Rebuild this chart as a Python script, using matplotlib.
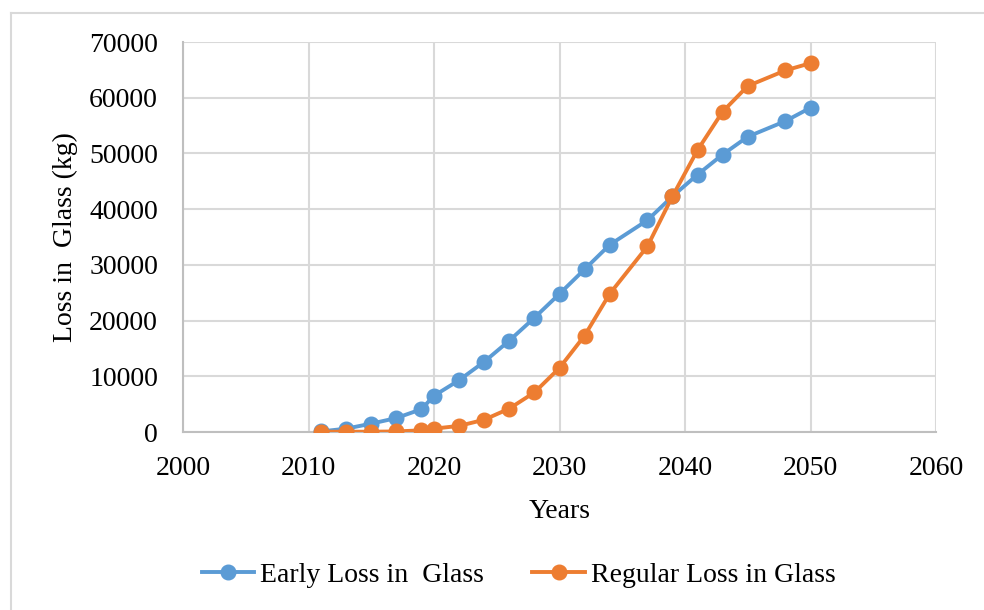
import matplotlib
matplotlib.use("Agg")
import matplotlib.pyplot as plt
from matplotlib.lines import Line2D

# data
years = [2011, 2013, 2015, 2017, 2019, 2020, 2022, 2024, 2026, 2028,
         2030, 2032, 2034, 2037, 2039, 2041, 2043, 2045, 2048, 2050]
early_loss = [100, 600, 1500, 2500, 4100, 6500, 9300, 12600, 16400, 20500,
              24800, 29200, 33600, 38000, 42300, 46200, 49800, 53000, 55800, 58200]
regular_loss = [50, 50, 50, 100, 300, 600, 1100, 2200, 4200, 7100,
                11500, 17300, 24800, 33300, 42300, 50600, 57500, 62100, 64900, 66200]

x_ticks = [2000, 2010, 2020, 2030, 2040, 2050, 2060]
y_ticks = [0, 10000, 20000, 30000, 40000, 50000, 60000, 70000]

blue = "#5B9BD5"
orange = "#ED7D31"
grid_c = "#D9D9D9"

plt.rcParams["font.family"] = ["Liberation Serif", "DejaVu Serif"]

fig = plt.figure(figsize=(9.84, 6.10), dpi=100)
W, H = 984, 610
ax = fig.add_axes([183 / W, 1 - 432 / H, (936 - 183) / W, (432 - 42) / H])

ax.plot(years, early_loss, color=blue, lw=2.8, marker="o", markersize=10.5,
        label="Early Loss in  Glass", zorder=3)
ax.plot(years, regular_loss, color=orange, lw=2.8, marker="o", markersize=10.5,
        label="Regular Loss in Glass", zorder=4)

ax.set_xlim(2000, 2060)
ax.set_ylim(0, 70000)
ax.set_xticks(x_ticks)
ax.set_yticks(y_ticks)
ax.grid(True, color=grid_c, lw=1.5)
ax.set_axisbelow(True)
for s in ["top", "right"]:
    ax.spines[s].set_visible(False)
for s in ["left", "bottom"]:
    ax.spines[s].set_color("#BFBFBF")
    ax.spines[s].set_linewidth(1.5)
ax.tick_params(length=0, labelsize=20, colors="black")
ax.tick_params(axis="x", pad=17)
ax.tick_params(axis="y", pad=18)

ax.set_xlabel("Years", fontsize=20, labelpad=13)
ax.set_ylabel("Loss in  Glass (kg)", fontsize=20, labelpad=8)

leg = fig.legend(loc="center", bbox_to_anchor=(0.527, 1 - 575 / H), ncol=2,
                 frameon=False, fontsize=20, handlelength=1.9,
                 columnspacing=1.75, handletextpad=0.2)

# outer chart border
fig.add_artist(Line2D([11 / W, 1], [1 - 13 / H, 1 - 13 / H], color=grid_c, lw=1.5))
fig.add_artist(Line2D([11 / W, 11 / W], [0, 1 - 13 / H], color=grid_c, lw=1.5))

fig.savefig("out.png", dpi=100)
